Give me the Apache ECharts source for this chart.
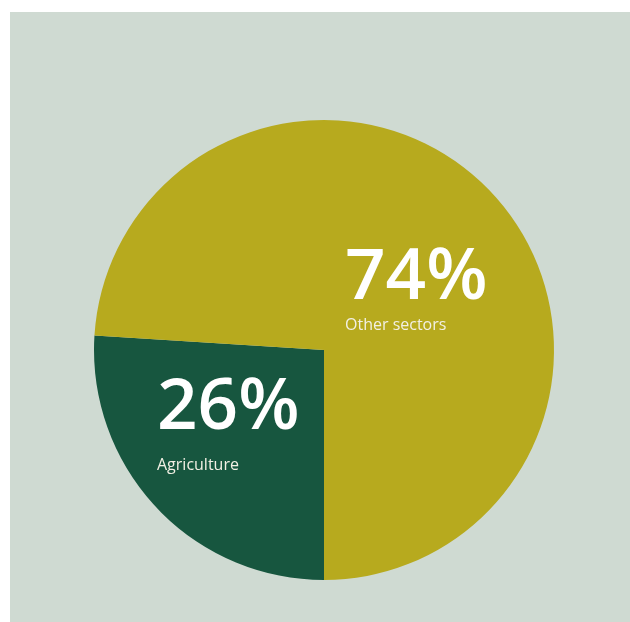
<!DOCTYPE html>
<html>
<head>
<meta charset="utf-8">
<script src="https://cdn.jsdelivr.net/npm/echarts@6/dist/echarts.min.js"></script>
<style>
  html, body { margin: 0; padding: 0; background: #ffffff; }
  #chart { position: absolute; left: 10px; top: 12px; width: 620px; height: 610px; }
</style>
</head>
<body>
<div id="chart"></div>
<script>
// データ
const sectors = ['Agriculture', 'Other sectors'];
const shares = [26, 74];
const sliceColors = ['#17563f', '#b7aa1e'];

const myChart = echarts.init(document.getElementById('chart'));

// ラベル位置（チャート座標）
const labelPos = [
  { x: 147, y: 360 },
  { x: 335, y: 230 }
];

const option = {
  backgroundColor: '#cfdad2',
  animation: false,
  series: [
    {
      type: 'pie',
      center: [314, 338],
      radius: [0, 230],
      startAngle: -90,
      clockwise: true,
      silent: true,
      data: sectors.map((name, i) => ({
        name: name,
        value: shares[i],
        itemStyle: { color: sliceColors[i] }
      })),
      itemStyle: { borderWidth: 0 },
      labelLine: { show: false },
      label: {
        show: true,
        position: 'inside',
        align: 'left',
        formatter: function (p) {
          return '{p|' + p.value + '%}\n{n' + p.dataIndex + '|' + p.name + '}';
        },
        rich: {
          p: {
            fontFamily: 'Open Sans',
            fontWeight: 600,
            fontSize: 71,
            lineHeight: 73,
            color: '#ffffff',
            align: 'left'
          },
          n0: {
            fontFamily: 'Open Sans',
            fontSize: 16,
            lineHeight: 41,
            color: '#f2f0e4',
            align: 'left'
          },
          n1: {
            fontFamily: 'Open Sans',
            fontSize: 16,
            lineHeight: 20,
            color: '#f2f0e4',
            align: 'left'
          }
        }
      },
      labelLayout: function (params) {
        const pos = labelPos[params.dataIndex];
        return {
          x: pos.x,
          y: pos.y,
          align: 'left',
          verticalAlign: 'top'
        };
      }
    }
  ]
};

myChart.setOption(option);
</script>
</body>
</html>
